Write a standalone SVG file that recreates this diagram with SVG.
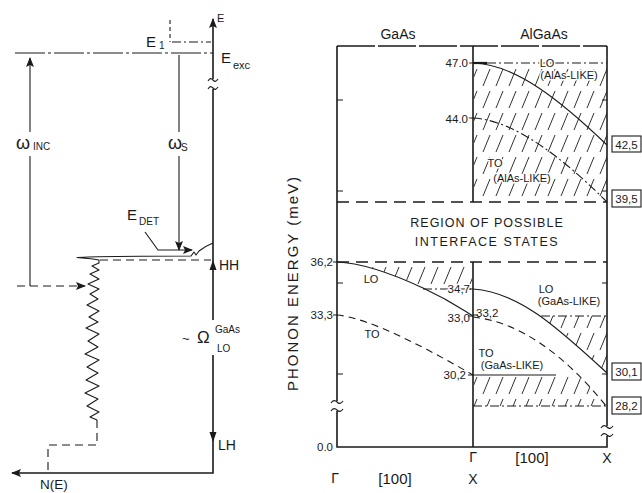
<svg xmlns="http://www.w3.org/2000/svg" width="642" height="493" viewBox="0 0 642 493">
<defs>
<style>
text{font-family:"Liberation Sans",Arial,sans-serif;fill:#1a1a1a}
.ln{stroke:#1a1a1a;fill:none;stroke-width:1.1}
.ax{stroke:#1a1a1a;fill:none;stroke-width:1.6}
.dash{stroke-dasharray:8 5}
.sd{stroke-dasharray:4 3}
.dd{stroke-dasharray:9 3 2 3}
.halo{stroke:#fff;stroke-width:3;paint-order:stroke;stroke-linejoin:round}
.lab{font-size:11px}
.num{font-size:11.5px}
.box{fill:#fff;stroke:#1a1a1a;stroke-width:1.1}
</style>
<pattern id="hatch" patternUnits="userSpaceOnUse" width="13" height="22"><path d="M2,20 L9,3" stroke="#1a1a1a" stroke-width="0.9"/></pattern>
<marker id="ah" viewBox="0 0 10 8" refX="9" refY="4" markerWidth="10" markerHeight="8" markerUnits="userSpaceOnUse" orient="auto"><path d="M0,0 L10,4 L0,8 L2,4 z" fill="#1a1a1a"/></marker>
</defs>
<rect width="642" height="493" fill="#fff"/>

<!-- LEFT: energy level diagram -->
<g id="energy-axis">
<path class="ax" d="M213,79 L213,19" marker-end="url(#ah)"/>
<path class="ln" d="M208,81 c2,-3 3,-3 5,-1 s3,2 5,-1"/>
<path class="ln" d="M208,89 c2,-3 3,-3 5,-1 s3,2 5,-1"/>
<path class="ax" d="M213,89 L213,320"/>
<path class="ax" d="M213,355 L213,473 L12,473" marker-end="url(#ah)"/>
<polygon points="213,260 209.5,270 216.5,270" fill="#1a1a1a"/>
<polygon points="213,442 209.5,432 216.5,432" fill="#1a1a1a"/>
<text x="217" y="22" font-size="11">E</text>
<text x="40" y="489" font-size="13.5">N(E)</text>
</g>
<g id="level-E1">
<path class="ln sd" d="M170,20 L170,42"/>
<path class="ln dd" d="M172,42 L211,42"/>
<text x="146" y="47" font-size="15">E</text><text x="159" y="49" font-size="10">1</text>
</g>
<g id="level-Eexc">
<path class="ln" stroke-dasharray="30 3 3 3" d="M15,53 L213,53"/>
<text x="221" y="63" font-size="15">E</text><text x="233" y="69" font-size="11">exc</text>
</g>
<g id="omega-inc">
<path class="ln" d="M30,286 L30,156"/>
<path class="ln" d="M30,132 L30,58" marker-end="url(#ah)"/>
<path class="ln dash" d="M17,286 L85,286" marker-end="url(#ah)"/>
<text x="16" y="149" font-size="18">ω</text><text x="33" y="150" font-size="10">INC</text>
</g>
<g id="omega-s">
<path class="ln" d="M179,55 L179,132"/>
<path class="ln" d="M179,156 L179,250" marker-end="url(#ah)"/>
<text x="168" y="149" font-size="18">ω</text><text x="181" y="151" font-size="10">S</text>
</g>
<g id="E-det">
<path class="ln" d="M145,232 L158,250 L192,250" marker-end="url(#ah)"/>
<text x="127" y="220" font-size="15">E</text><text x="139" y="225" font-size="10">DET</text>
</g>
<g id="dos-curve">
<path class="ln" stroke-linejoin="round" d="M213,243 C208,245 203,248 199,251 L196,255 L194,252 L191,256 C150,256 100,256 77,257.5 C90,258.5 95,259 99,260 L99,263 L92,266 L99,270 L90,274 L99,279 L88,284 L99,289 L90,294 L98,299 L87,305 L99,311 L89,317 L98,322 L86,328 L99,334 L88,341 L98,347 L85,354 L99,360 L87,367 L98,373 L86,380 L99,386 L85,393 L98,399 L87,406 L99,412 L90,417 L97,420"/>
<path class="ln dash" d="M97,420 L97,445 L48,445 L48,473"/>
</g>
<g id="level-HH">
<path class="ln dash" d="M100,260 L211,260"/>
<text x="219" y="270" font-size="14">HH</text>
</g>
<g id="level-LH">
<text x="218" y="450" font-size="14">LH</text>
</g>
<g id="omega-LO">
<text x="182" y="343" font-size="13">~</text>
<text x="197" y="343" font-size="17">Ω</text>
<text x="215" y="333" font-size="10">GaAs</text>
<text x="217" y="352" font-size="10">LO</text>
</g>

<!-- RIGHT: phonon dispersion -->
<g id="hatching">
<rect x="474" y="64" width="133" height="137" fill="url(#hatch)"/>
<path d="M338,263 L472,263 L472,288 L423,288 C395,275 365,263 338,262 Z" fill="url(#hatch)"/>
<path d="M541,316 L607,316 L607,373 L593,360 L579,348 L566,336 L553,326 Z" fill="url(#hatch)"/>
<path d="M474,376 L578,376 L588,385 L601,399 L607,406 L474,406 Z" fill="url(#hatch)"/>
</g>
<g id="frame">
<path class="ax" stroke-dasharray="38 3" d="M337,46 L607,46"/>
<path class="ax" d="M337,46 L337,401 M337,411 L337,447 L607,447 L607,436 M607,426 L607,46"/>
<path class="ln" d="M331,403 c2,-3 4,-3 6,-1 s4,2 6,-1 M331,411 c2,-3 4,-3 6,-1 s4,2 6,-1"/>
<path class="ln" d="M601,428 c2,-3 4,-3 6,-1 s4,2 6,-1 M601,436 c2,-3 4,-3 6,-1 s4,2 6,-1"/>
<path class="ax" d="M473,46 L473,202 M473,262 L473,447"/>
<path class="ax" stroke-dasharray="12 7" d="M337,202 L607,202 M337,262 L607,262"/>
<path class="ln" d="M337,100 h6 M337,191 h6 M337,283 h6 M337,374 h6 M333,262 h4 M333,315 h4 M607,100 h-5 M607,191 h-5 M607,283 h-5 M607,374 h-5 M468,63 h5 M468,118 h5 M468,289 h5 M468,316 h5 M468,375 h5 M473,315 h5"/>
<path d="M473,63 h14" stroke="#1a1a1a" stroke-width="2.2"/>
</g>
<g id="curves">
<path class="ln" d="M473,63 C515,64 560,100 607,145"/>
<path class="ln dd" d="M487,63 L607,63"/>
<path class="ln dd" d="M473,118 C515,120 565,160 607,202"/>
<path class="ln" d="M337,262 C365,263 395,275 423,288 S460,308 473,316"/>
<path class="ln dd" d="M423,289 L473,289"/>
<path class="ln" stroke-dasharray="7 5" d="M337,315 C370,318 430,350 473,375"/>
<path class="ln" d="M473,289 C520,292 560,330 607,373"/>
<path class="ln dd" d="M541,316 L607,316"/>
<path class="ln" stroke-dasharray="7 5" d="M473,317 C520,322 565,355 607,407"/>
<path class="ln" d="M473,375 L556,375"/>
<path class="ln dd" d="M473,406 L607,406"/>
</g>
<g id="labels">
<text x="398" y="39" font-size="14" text-anchor="middle">GaAs</text>
<text x="544" y="39" font-size="14" text-anchor="middle">AlGaAs</text>
<text transform="translate(298,283) rotate(-90)" font-size="15" letter-spacing="2" text-anchor="middle">PHONON ENERGY (meV)</text>
<text x="487" y="227" font-size="12.5" letter-spacing="1" text-anchor="middle">REGION OF POSSIBLE</text>
<text x="487" y="246" font-size="12.5" letter-spacing="1.5" text-anchor="middle">INTERFACE STATES</text>
<text class="num" x="333" y="266" text-anchor="end">36,2</text>
<text class="num" x="333" y="319" text-anchor="end">33,3</text>
<text class="num" x="333" y="451" text-anchor="end">0.0</text>
<text class="num halo" x="468" y="67" text-anchor="end">47.0</text>
<text class="num halo" x="468" y="123" text-anchor="end">44.0</text>
<text class="num halo" x="470" y="293" text-anchor="end">34,7</text>
<text class="num" x="470" y="322" text-anchor="end">33,0</text>
<text class="num" x="476" y="317">33,2</text>
<text class="num" x="466" y="379" text-anchor="end">30,2</text>
<text class="lab halo" x="547" y="67" font-size="10.5" text-anchor="middle">LO</text>
<text class="lab halo" x="569" y="79" font-size="10.5" text-anchor="middle">(AlAs-LIKE)</text>
<text class="lab halo" x="495" y="167" text-anchor="middle">TO</text>
<text class="lab halo" x="522" y="182" text-anchor="middle">(AlAs-LIKE)</text>
<text class="lab" x="371" y="283" text-anchor="middle">LO</text>
<text class="lab" x="372" y="338" text-anchor="middle">TO</text>
<text class="lab halo" x="546" y="293" text-anchor="middle">LO</text>
<text class="lab halo" x="569" y="305" text-anchor="middle">(GaAs-LIKE)</text>
<text class="lab halo" x="486" y="357" text-anchor="middle">TO</text>
<text class="lab halo" x="512" y="369" text-anchor="middle">(GaAs-LIKE)</text>
<rect class="box" x="612" y="136" width="29" height="16"/><text class="num" x="626.5" y="148.5" text-anchor="middle">42,5</text>
<rect class="box" x="612" y="190" width="29" height="17"/><text class="num" x="626.5" y="203" text-anchor="middle">39,5</text>
<rect class="box" x="612" y="363" width="29" height="17"/><text class="num" x="626.5" y="376" text-anchor="middle">30,1</text>
<rect class="box" x="612" y="397" width="29" height="17"/><text class="num" x="626.5" y="410" text-anchor="middle">28,2</text>
<text x="335" y="483" font-size="14" text-anchor="middle">Γ</text>
<text x="395" y="484" font-size="15" text-anchor="middle">[100]</text>
<text x="473" y="484" font-size="14" text-anchor="middle">X</text>
<text x="473" y="462" font-size="14" text-anchor="middle">Γ</text>
<text x="532" y="463" font-size="15" text-anchor="middle">[100]</text>
<text x="607" y="463" font-size="14" text-anchor="middle">X</text>
</g>
</svg>
